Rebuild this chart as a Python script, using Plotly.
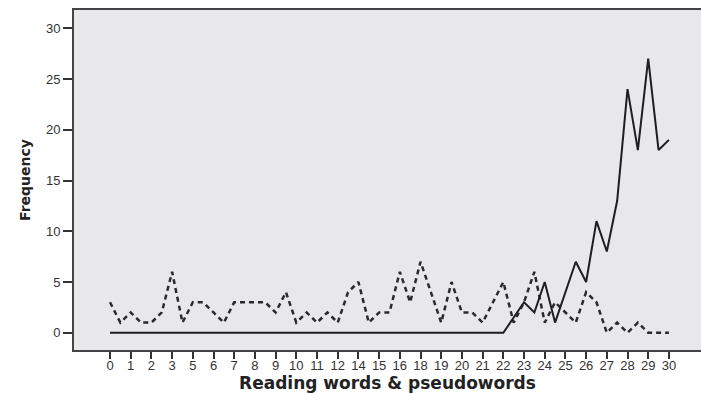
import plotly.graph_objects as go

# Labelled categories (every other category position carries a label)
tick_labels = ["0", "1", "2", "3", "5", "6", "7", "8", "9", "10", "11", "12", "14",
               "15", "16", "18", "19", "20", "21", "22", "23", "24", "25", "26",
               "27", "28", "29", "30"]

# Category positions (labelled ticks at whole positions, unlabelled categories between)
positions = [i / 2 for i in range(2 * len(tick_labels) - 1)]

# Frequency per category position
solid_values = [0, 0, 0, 0, 0, 0, 0, 0, 0, 0,
                0, 0, 0, 0, 0, 0, 0, 0, 0, 0,
                0, 0, 0, 0, 0, 0, 0, 0, 0, 0,
                0, 0, 0, 0, 0, 0, 0, 0, 0, 1.5,
                3, 2, 5, 1, 4, 7, 5, 11, 8, 13,
                24, 18, 27, 18, 19]

dashed_values = [3, 1, 2, 1, 1, 2, 6, 1, 3, 3,
                 2, 1, 3, 3, 3, 3, 2, 4, 1, 2,
                 1, 2, 1, 4, 5, 1, 2, 2, 6, 3,
                 7, 4, 1, 5, 2, 2, 1, 3, 5, 1,
                 3, 6, 1, 3, 2, 1, 4, 3, 0, 1,
                 0, 1, 0, 0, 0]

y_ticks = [0, 5, 10, 15, 20, 25, 30]

fig = go.Figure()
fig.add_trace(go.Scatter(
    x=positions, y=dashed_values, mode="lines",
    line=dict(color="#2a2a2a", width=2.5, dash="5px,4px"),
    showlegend=False, hoverinfo="skip"))
fig.add_trace(go.Scatter(
    x=positions, y=solid_values, mode="lines",
    line=dict(color="#1e1e1e", width=2),
    showlegend=False, hoverinfo="skip"))

tick_font = "Liberation Sans, Arial, sans-serif"
title_font = "DejaVu Sans, Verdana, sans-serif"

fig.update_layout(
    width=701, height=394,
    margin=dict(l=74, r=0, t=10, b=44),
    paper_bgcolor="white",
    plot_bgcolor="#e8e8ea",
    font=dict(family=tick_font, size=13, color="#333333"),
    xaxis=dict(
        range=[-1.74, 28.55],
        tickvals=list(range(len(tick_labels))),
        ticktext=tick_labels,
        ticks="outside", ticklen=7, tickwidth=2, tickcolor="#333333",
        ticklabelstandoff=-5,
        showgrid=False, zeroline=False, automargin=False,
        showline=True, linecolor="#444444", linewidth=2, mirror=True,
        tickfont=dict(family=tick_font, size=13, color="#333333"),
        title=dict(text="<b>Reading words & pseudowords</b>",
                   font=dict(family=title_font, size=17, color="#222222"),
                   standoff=6),
    ),
    yaxis=dict(
        range=[-1.7, 31.8],
        tickvals=y_ticks,
        ticks="outside", ticklen=9, tickwidth=2, tickcolor="#333333",
        showgrid=False, zeroline=False, automargin=False,
        showline=True, linecolor="#444444", linewidth=2,
        tickfont=dict(family=tick_font, size=13, color="#333333"),
        title=dict(text="<b>Frequency</b>",
                   font=dict(family=title_font, size=14, color="#222222"),
                   standoff=12),
    ),
)

fig.write_html(
    "out.html",
    config={"displayModeBar": False},
    post_script="document.body.style.margin='0px';document.body.style.overflow='hidden';",
)
